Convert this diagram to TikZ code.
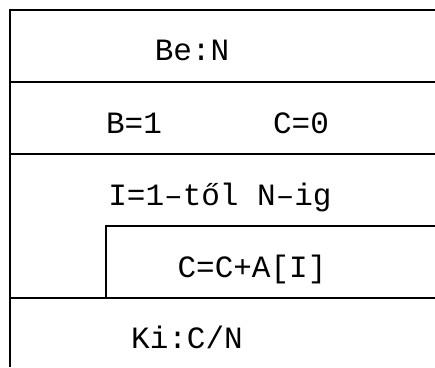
\documentclass[tikz,border=0pt]{standalone}
\usepackage{fontspec}
\setmonofont{Liberation Mono}
\begin{document}
\begin{tikzpicture}[x=1pt,y=-1pt,
  rule/.style={line width=1.5pt,black},
  lbl/.style={font=\ttfamily\fontsize{31}{31}\selectfont,anchor=base,inner sep=0pt}]
\useasboundingbox (0,0) rectangle (435,367);
\coordinate (tl) at (10,10);
\coordinate (tr) at (435,10);
\coordinate (l1) at (10,82);
\coordinate (r1) at (435,82);
\coordinate (l2) at (10,154);
\coordinate (r2) at (435,154);
\coordinate (il) at (106,226);
\coordinate (ir) at (435,226);
\coordinate (ib) at (106,298);
\coordinate (l3) at (10,298);
\coordinate (r3) at (435,298);
\coordinate (bl) at (10,367);
\draw[rule] (tr) -- (tl) -- (bl);
\draw[rule] (l1) -- (r1);
\draw[rule] (l2) -- (r2);
\draw[rule] (ir) -- (il) -- (ib);
\draw[rule] (l3) -- (r3);
\node[lbl] (be) at (192,60) {Be:N};
\node[lbl] (b1) at (134,133) {B=1};
\node[lbl] (c0) at (301,133) {C=0};
\node[lbl] (loop) at (220,205) {I=1–től N–ig};
\node[lbl] (body) at (252,277) {C=C+A[I]};
\node[lbl] (ki) at (187,348) {Ki:C/N};
\end{tikzpicture}
\end{document}
